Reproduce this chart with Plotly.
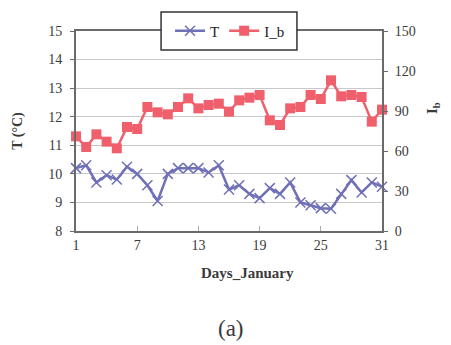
import plotly.graph_objects as go

days = list(range(1, 32))
T_values = [10.2, 10.3, 9.7, 9.95, 9.8, 10.25, 10.0, 9.6, 9.05, 10.0,
            10.2, 10.2, 10.2, 10.05, 10.3, 9.45, 9.6, 9.3, 9.15, 9.5,
            9.3, 9.7, 9.0, 8.9, 8.8, 8.78, 9.3, 9.78, 9.35, 9.7, 9.55]
Ib_values = [71, 63, 72.5, 67, 62, 78, 76.5, 93, 89, 87.5,
             93, 99.5, 92, 94.5, 95.5, 89.5, 98, 100, 102, 83,
             79.5, 92, 93, 102, 99, 113, 101, 102, 100.5, 82, 91]
x_ticks = [1, 7, 13, 19, 25, 31]
left_ticks = [8, 9, 10, 11, 12, 13, 14, 15]
right_ticks = [0, 30, 60, 90, 120, 150]

T_COLOR = "#7070B8"
IB_COLOR = "#F0606C"
FONT = "Liberation Serif"
TXT = "#3a3a3a"
AX = "#6a6a6a"

fig = go.Figure()
fig.add_trace(go.Scatter(
    x=days, y=T_values, name="T", mode="lines+markers",
    line=dict(color=T_COLOR, width=2.5),
    marker=dict(symbol="x-thin", size=10, line=dict(color=T_COLOR, width=1.5)),
    cliponaxis=False, yaxis="y"))
fig.add_trace(go.Scatter(
    x=days, y=Ib_values, name="I_b", mode="lines+markers",
    line=dict(color=IB_COLOR, width=2.5),
    marker=dict(symbol="square", size=10, color=IB_COLOR),
    cliponaxis=False, yaxis="y2"))

fig.update_layout(
    width=451, height=345,
    margin=dict(l=76, r=69, t=31, b=114, autoexpand=False),
    paper_bgcolor="white", plot_bgcolor="white",
    font=dict(family=FONT, size=14, color=TXT),
    showlegend=True,
    legend=dict(orientation="h", xref="container", yref="container",
                x=0.51, xanchor="center", y=1 - 31 / 345, yanchor="middle",
                bgcolor="rgba(0,0,0,0)", borderwidth=0,
                font=dict(family=FONT, size=15, color="#222222"),
                itemwidth=30),
    shapes=[dict(type="rect", xref="paper", yref="paper",
                 x0=0.278, x1=0.722, y0=0.905, y1=1.095,
                 fillcolor="white", line=dict(color="#333333", width=1.5),
                 layer="above")],
    xaxis=dict(range=[1, 31], tickvals=x_ticks, ticks="inside", ticklen=5,
               tickcolor="#aaaaaa", showgrid=False, zeroline=False,
               showline=True, linecolor=AX, linewidth=2, mirror=True,
               automargin=False,
               tickfont=dict(family=FONT, size=14, color=TXT)),
    yaxis=dict(range=[8, 15], tickvals=left_ticks, ticks="outside", ticklen=4,
               tickcolor=AX, showgrid=True, gridcolor="#c8c8c8", gridwidth=1.2,
               zeroline=False, showline=True, linecolor=AX, linewidth=2,
               automargin=False, ticklabelstandoff=5,
               tickfont=dict(family=FONT, size=14, color=TXT)),
    yaxis2=dict(range=[0, 150], tickvals=right_ticks, overlaying="y", side="right",
                ticks="outside", ticklen=4, tickcolor=AX, showgrid=False,
                zeroline=False, showline=True, linecolor=AX, linewidth=2,
                automargin=False, ticklabelstandoff=4,
                tickfont=dict(family=FONT, size=14, color=TXT)),
    annotations=[
        dict(text="<b>T (°C)</b>", xref="paper", yref="paper", x=-0.19, y=0.5,
             xanchor="center", yanchor="middle",
             textangle=-90, showarrow=False, font=dict(family=FONT, size=14, color=TXT)),
        dict(text="<b>I<sub>b</sub></b>", xref="paper", yref="paper", x=1.167, y=0.615,
             xanchor="center", yanchor="middle",
             textangle=-90, showarrow=False, font=dict(family=FONT, size=15, color=TXT)),
        dict(text="<b>Days_January</b>", xref="paper", yref="paper", x=0.56, y=-0.21,
             xanchor="center", yanchor="middle",
             showarrow=False, font=dict(family=FONT, size=15, color=TXT)),
        dict(text="(a)", xref="paper", yref="paper", x=0.507, y=-0.485,
             xanchor="center", yanchor="middle",
             showarrow=False, font=dict(family=FONT, size=23, color=TXT)),
    ],
)

fig.write_html("out.html",
               config={"displayModeBar": False},
               post_script="document.body.style.margin='0';document.body.style.overflow='hidden';")
